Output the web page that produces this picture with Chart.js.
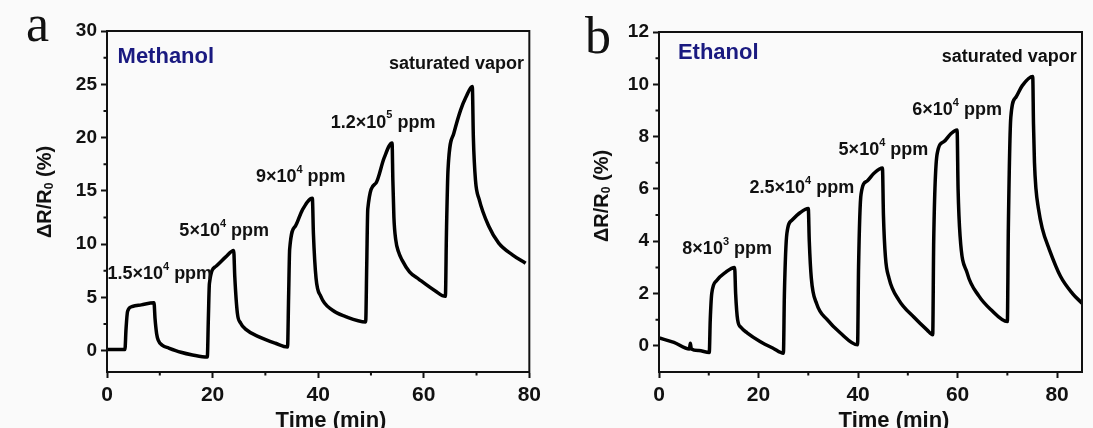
<!DOCTYPE html>
<html lang="en">
<head>
<meta charset="UTF-8">
<title>gas response</title>
<script src="https://cdn.jsdelivr.net/npm/chart.js"></script>
<style>
    body { margin: 0; background: #fafafa; }
    #wrap { position: relative; width: 1093px; height: 428px; overflow: hidden; }
    canvas { position: absolute; top: 0; }
    #panelA { left: 0; }
    #panelB { left: 546px; }
</style>
</head>
<body>
<div id="wrap">
    <canvas id="panelA" width="546" height="428"></canvas>
    <canvas id="panelB" width="547" height="428"></canvas>
</div>
<script>
// methanol response (a)
const methanolTime = [0, 3.4, 3.6, 3.9, 4.8, 6.5, 8.9, 9.1, 9.4, 9.7, 10.5, 11.7, 14, 16.2, 19.0,
    19.2, 19.4, 20.6, 22.5, 24.0, 24.2, 24.7, 25.3, 26.3, 28.8, 31.9, 34.2,
    34.4, 34.6, 35.7, 37.0, 38.9, 39.1, 39.6, 40.5, 42.7, 45.2, 49.0,
    49.2, 49.4, 50.9, 52.5, 54.0, 54.15, 54.35, 54.7, 55.2, 55.9, 57.3, 59.1, 62.2, 64.1,
    64.3, 64.6, 65.7, 67.0, 68.0, 69.2, 69.4, 69.8, 70.5, 72.3, 74.2, 76.8, 79.3];
const methanolResp = [0.1, 0.1, 2.0, 3.7, 4.15, 4.3, 4.5, 3.0, 1.6, 1.0, 0.5, 0.25, -0.15, -0.4, -0.6,
    3.0, 6.3, 7.9, 8.8, 9.4, 7.0, 3.5, 2.6, 2.0, 1.3, 0.7, 0.35,
    5.0, 9.5, 11.7, 13.2, 14.3, 11.0, 6.8, 5.1, 3.8, 3.2, 2.7,
    8.0, 13.3, 15.7, 18.1, 19.5, 16.0, 12.5, 10.4, 9.3, 8.5, 7.4, 6.7, 5.6, 5.1,
    11.0, 17.0, 20.4, 22.6, 23.8, 24.8, 20.0, 16.0, 14.2, 11.7, 10.1, 9.0, 8.2];

// ethanol response (b)
const ethanolTime = [0, 3, 6.1, 6.3, 6.5, 8, 10.1,
    10.3, 10.6, 11.6, 13.3, 15.2, 15.4, 15.8, 16.5, 17.7, 20.3, 23, 25.0,
    25.2, 25.7, 26.7, 28.4, 30.0, 30.2, 30.6, 31.7, 33.8, 36.4, 39.9,
    40.1, 40.6, 41.8, 43.2, 44.9, 45.1, 45.5, 46.2, 48.2, 51.2, 53.9, 55.0,
    55.2, 55.9, 57.2, 58.6, 59.9, 60.1, 60.5, 61.9, 64.3, 66.6, 70.0,
    70.2, 70.7, 71.7, 73.0, 75.1, 75.25, 75.45, 75.75, 76.2, 77.0, 78.4, 80.7, 83.1, 85];
const ethanolResp = [0.3, 0.13, -0.12, 0.1, -0.12, -0.18, -0.25,
    1.0, 2.0, 2.5, 2.8, 3.0, 2.0, 1.0, 0.7, 0.5, 0.17, -0.1, -0.28,
    2.0, 4.3, 4.8, 5.1, 5.25, 4.0, 2.6, 1.6, 1.0, 0.5, 0.04,
    3.0, 5.8, 6.3, 6.6, 6.8, 5.0, 3.4, 2.6, 1.75, 1.1, 0.6, 0.42,
    4.0, 7.35, 7.8, 8.1, 8.25, 6.0, 4.2, 2.8, 1.9, 1.4, 0.93,
    4.5, 8.75, 9.5, 9.95, 10.3, 8.5, 7.0, 6.0, 5.3, 4.5, 3.7, 2.65, 2.0, 1.63];

// axes
const xTicksA = [0, 20, 40, 60, 80];
const xMinorA = [10, 30, 50, 70];
const yTicksA = [0, 5, 10, 15, 20, 25, 30];
const yMinorA = [2.5, 7.5, 12.5, 17.5, 22.5, 27.5];
const xTicksB = [0, 20, 40, 60, 80];
const xMinorB = [10, 30, 50, 70];
const yTicksB = [0, 2, 4, 6, 8, 10, 12];
const yMinorB = [1, 3, 5, 7, 9, 11];

// concentration labels (^ = superscript), anchored in data units
const methanolNotes = ['1.5×10^4 ppm', '5×10^4 ppm', '9×10^4 ppm', '1.2×10^5 ppm', 'saturated vapor'];
const methanolNoteX = [10.0, 22.2, 36.7, 52.3, 66.2];
const methanolNoteY = [7.2, 11.2, 16.3, 21.4, 26.9];
const ethanolNotes = ['8×10^3 ppm', '2.5×10^4 ppm', '5×10^4 ppm', '6×10^4 ppm', 'saturated vapor'];
const ethanolNoteX = [13.7, 28.7, 45.1, 59.9, 70.4];
const ethanolNoteY = [3.7, 6.04, 7.49, 9.0, 11.05];

const FONT = '"Liberation Sans", Arial, sans-serif';

function parseRich(str) {
    const parts = [];
    for (let i = 0; i < str.length; i++) {
        const c = str[i];
        if ((c === '^' || c === '_') && i + 1 < str.length) {
            parts.push({ t: str[i + 1], k: c });
            i++;
        } else if (parts.length && parts[parts.length - 1].k === '') {
            parts[parts.length - 1].t += c;
        } else {
            parts.push({ t: c, k: '' });
        }
    }
    return parts;
}

function drawRich(ctx, str, x, y, size, align, color) {
    const parts = parseRich(str);
    const fontOf = p => 'bold ' + (p.k ? Math.round(size * 0.6) : size) + 'px ' + FONT;
    let total = 0;
    parts.forEach(p => { ctx.font = fontOf(p); p.w = ctx.measureText(p.t).width; total += p.w; });
    let cx = align === 'center' ? x - total / 2 : (align === 'right' ? x - total : x);
    ctx.fillStyle = color;
    ctx.textAlign = 'left';
    ctx.textBaseline = 'middle';
    parts.forEach(p => {
        ctx.font = fontOf(p);
        const dy = p.k === '^' ? -size * 0.4 : (p.k === '_' ? size * 0.25 : 0);
        ctx.fillText(p.t, cx, y + dy);
        cx += p.w;
    });
}

function makePanel(id, p) {
    const pts = p.time.map((t, i) => ({ x: t, y: p.resp[i] }));

    const decor = {
        id: 'decor' + id,
        afterDatasetsDraw(chart) {
            const { ctx, chartArea: a, scales: { x, y } } = chart;
            ctx.save();
            // frame + minor ticks
            ctx.strokeStyle = '#111';
            ctx.lineWidth = 2;
            ctx.strokeRect(a.left, a.top, a.right - a.left, a.bottom - a.top);
            ctx.beginPath();
            p.xMinor.forEach(v => {
                const px = x.getPixelForValue(v);
                ctx.moveTo(px, a.bottom);
                ctx.lineTo(px, a.bottom + 3.5);
            });
            p.yMinor.forEach(v => {
                const py = y.getPixelForValue(v);
                ctx.moveTo(a.left, py);
                ctx.lineTo(a.left - 3.5, py);
            });
            ctx.stroke();

            // gas name
            drawRich(ctx, p.gas, x.getPixelForValue(p.gasX), y.getPixelForValue(p.gasY), 22, 'left', '#1a1a80');
            // concentrations
            p.notes.forEach((s, i) => {
                drawRich(ctx, s, x.getPixelForValue(p.noteX[i]), y.getPixelForValue(p.noteY[i]), 18, 'center', '#111');
            });

            // panel letter
            ctx.font = '52px "Liberation Serif", "Times New Roman", serif';
            ctx.fillStyle = '#111';
            ctx.textAlign = 'left';
            ctx.textBaseline = 'alphabetic';
            ctx.fillText(p.letter, p.letterX, p.letterY);

            // axis titles
            ctx.save();
            ctx.translate(p.yTitleX, p.yTitleY);
            ctx.rotate(-Math.PI / 2);
            drawRich(ctx, 'ΔR/R_0 (%)', 0, 0, 20, 'center', '#111');
            ctx.restore();
            ctx.font = 'bold 22px ' + FONT;
            ctx.textAlign = 'center';
            ctx.textBaseline = 'alphabetic';
            ctx.fillStyle = '#111';
            ctx.fillText('Time (min)', p.xTitleX, 427);
            ctx.restore();
        }
    };

    return new Chart(document.getElementById(id), {
        type: 'line',
        data: {
            datasets: [{
                data: pts,
                borderColor: '#000',
                borderWidth: 3.5,
                pointRadius: 0,
                cubicInterpolationMode: 'monotone',
                fill: false
            }]
        },
        options: {
            responsive: false,
            animation: false,
            devicePixelRatio: 1,
            layout: { padding: { top: p.padTop, right: p.padRight, left: 0, bottom: 0 } },
            plugins: { legend: { display: false }, tooltip: { enabled: false } },
            scales: {
                x: {
                    type: 'linear',
                    min: 0,
                    max: p.xMax,
                    afterBuildTicks: s => { s.ticks = p.xTicks.map(v => ({ value: v })); },
                    afterFit: s => { s.height = 56; },
                    grid: { drawOnChartArea: false, tickLength: 6, tickWidth: 2, tickColor: '#111' },
                    border: { color: '#111', width: 2 },
                    ticks: { autoSkip: false, maxRotation: 0, padding: 5, color: '#111',
                        font: { family: FONT, size: 21, weight: 'bold' } }
                },
                y: {
                    type: 'linear',
                    min: p.yMin,
                    max: p.yMax,
                    afterBuildTicks: s => { s.ticks = p.yTicks.map(v => ({ value: v })); },
                    afterFit: s => { s.width = p.yWidth; },
                    grid: { drawOnChartArea: false, tickLength: 6, tickWidth: 2, tickColor: '#111' },
                    border: { color: '#111', width: 2 },
                    ticks: { autoSkip: false, padding: 4, color: '#111',
                        font: { family: FONT, size: 19, weight: 'bold' } }
                }
            }
        },
        plugins: [decor]
    });
}

makePanel('panelA', {
    time: methanolTime, resp: methanolResp,
    xMax: 80, yMin: -2, yMax: 30,
    xTicks: xTicksA, yTicks: yTicksA, xMinor: xMinorA, yMinor: yMinorA,
    yWidth: 107, padTop: 31, padRight: 14,
    gas: 'Methanol', gasX: 2.0, gasY: 27.6,
    notes: methanolNotes, noteX: methanolNoteX, noteY: methanolNoteY,
    letter: 'a', letterX: 26, letterY: 41,
    yTitleX: 45, yTitleY: 192, xTitleX: 331
});

makePanel('panelB', {
    time: ethanolTime, resp: ethanolResp,
    xMax: 85, yMin: -1, yMax: 12,
    xTicks: xTicksB, yTicks: yTicksB, xMinor: xMinorB, yMinor: yMinorB,
    yWidth: 113, padTop: 32, padRight: 11,
    gas: 'Ethanol', gasX: 3.8, gasY: 11.2,
    notes: ethanolNotes, noteX: ethanolNoteX, noteY: ethanolNoteY,
    letter: 'b', letterX: 39, letterY: 53,
    yTitleX: 56, yTitleY: 196, xTitleX: 348
});
</script>
</body>
</html>
